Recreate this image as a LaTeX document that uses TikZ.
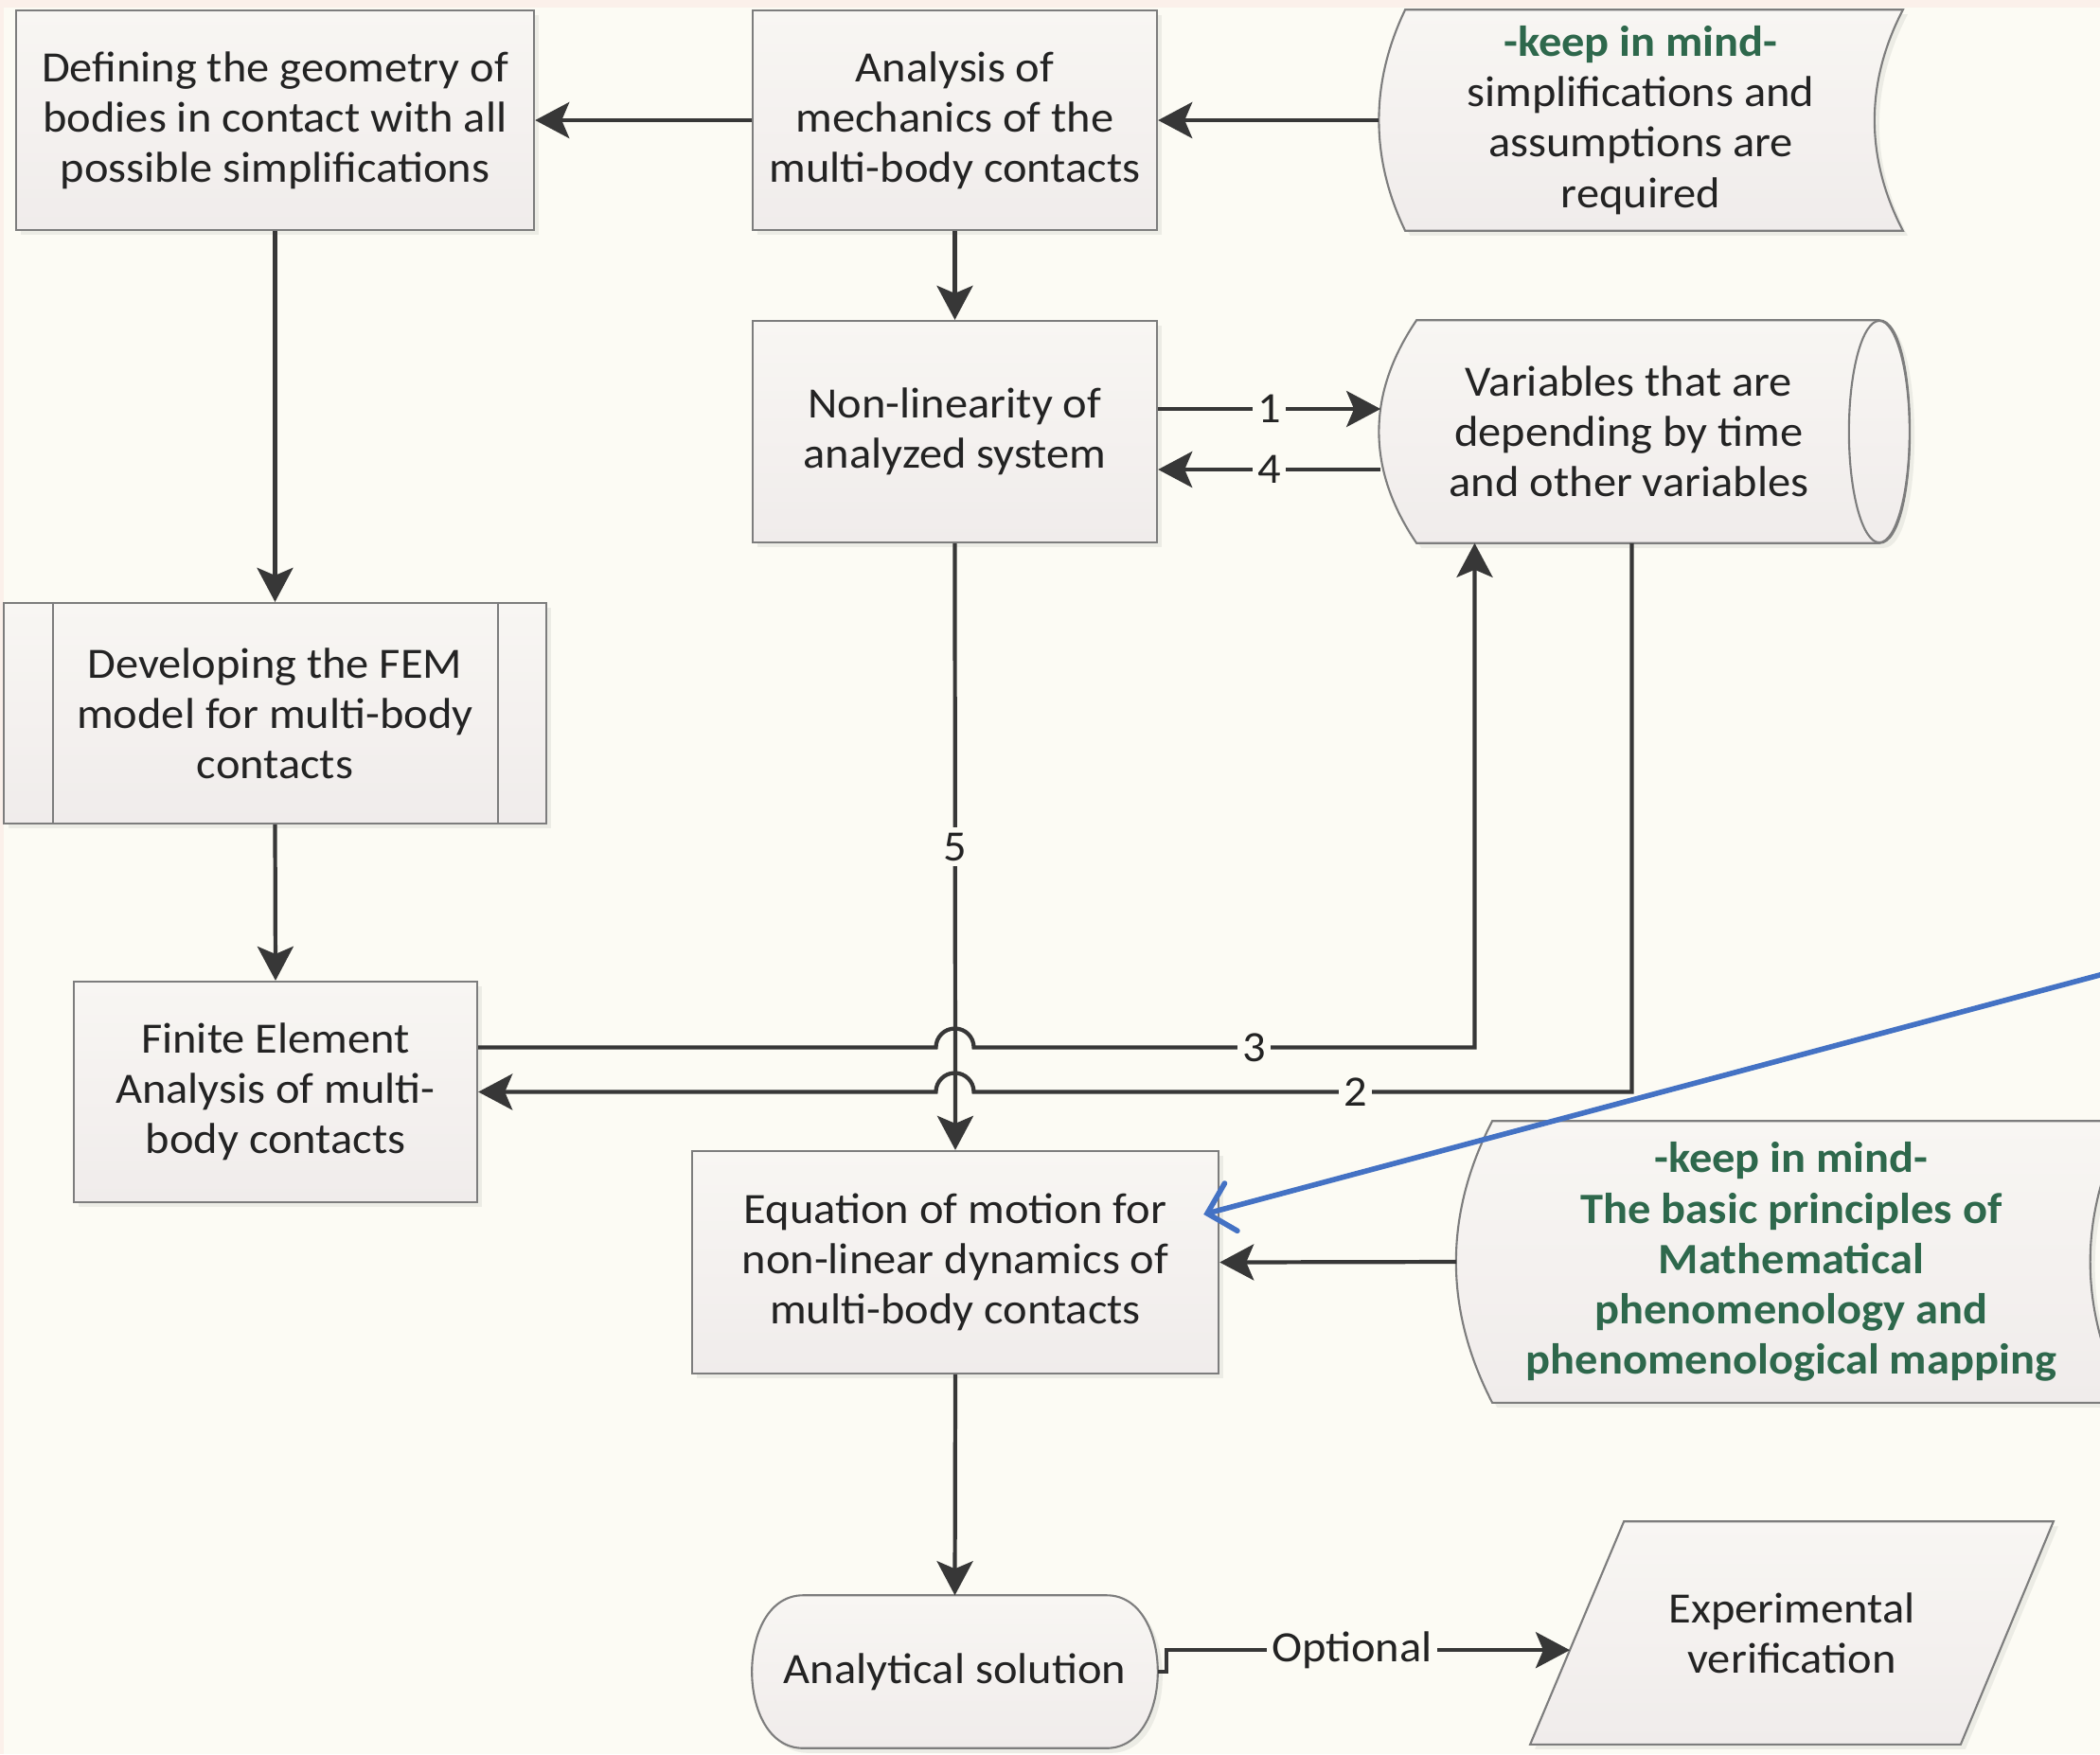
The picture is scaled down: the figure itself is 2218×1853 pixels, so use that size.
\documentclass[tikz,border=0pt]{standalone}
\usepackage{fontspec}
\setmainfont{Carlito}[FakeStretch=1.06]
\usetikzlibrary{calc}
\usetikzlibrary{arrows.meta}
\usetikzlibrary{shadows}

\definecolor{paper}{RGB}{252,251,244}
\definecolor{rim}{RGB}{251,240,234}
\definecolor{boxtop}{RGB}{248,246,243}
\definecolor{boxbot}{RGB}{240,236,235}
\definecolor{boxedge}{RGB}{125,125,125}
\definecolor{ink}{RGB}{35,35,35}
\definecolor{wire}{RGB}{55,55,55}
\definecolor{mindgreen}{RGB}{46,104,76}
\definecolor{pointblue}{RGB}{68,114,196}

\pgfdeclarelayer{paperlayer}
\pgfdeclarelayer{shapelayer}
\pgfsetlayers{paperlayer,shapelayer,main}

\tikzset{
  txt/.style={font=\fontsize{13}{15.1}\selectfont, text=ink, align=center, inner sep=0pt},
  boxshadow/.style={drop shadow={opacity=0.12, shadow xshift=0.05cm, shadow yshift=-0.05cm}},
  procbox/.style={txt, rectangle, draw=boxedge, line width=0.6pt, top color=boxtop, bottom color=boxbot, boxshadow},
  shapebox/.style={txt, rectangle},
  shapefill/.style={draw=boxedge, line width=0.6pt, top color=boxtop, bottom color=boxbot, boxshadow},
  thinline/.style={draw=boxedge, line width=0.6pt},
  conn/.style={draw=wire, line width=1.2pt, -{Stealth[length=3.6mm,width=3.8mm,inset=0.8mm]}},
  lbl/.style={fill=paper, inner sep=1.5pt, font=\fontsize{13}{15}\selectfont, text=ink},
  bluepointer/.style={draw=pointblue, line width=1.6pt, line cap=round, -{Straight Barb[length=2.6mm,width=5.2mm,line cap=round]}}
}

\begin{document}
\begin{tikzpicture}[x=0.01cm, y=-0.01cm]
\useasboundingbox (0,0) rectangle (2218,1853);
\begin{pgfonlayer}{paperlayer}
\fill[paper] (0,0) rectangle (2218,1853);
\fill[rim] (0,0) rectangle (2218,8);
\fill[rim] (0,0) rectangle (4,1853);
\end{pgfonlayer}

% boxes
\node[procbox, minimum width=5.47cm, minimum height=2.32cm] (geom) at (290.5,127)
  {Defining the geometry of\\bodies in contact with all\\possible simplifications};
\node[procbox, minimum width=4.27cm, minimum height=2.32cm] (mech) at (1008.5,127)
  {Analysis of\\mechanics of the\\multi-body contacts};
\node[shapebox, minimum width=5.52cm, minimum height=2.32cm] (keep) at (1733,127)
  {{\color{mindgreen}\bfseries -keep in mind-}\\simplifications and\\assumptions are\\required};
\node[procbox, minimum width=4.27cm, minimum height=2.34cm] (nonlin) at (1008.5,456)
  {Non-linearity of\\analyzed system};
\node[shapebox, minimum width=5.27cm, minimum height=2.34cm] (vars) at (1720.5,456)
  {Variables that are\\depending by time\\and other variables};
\node[procbox, minimum width=5.73cm, minimum height=2.33cm] (fem) at (290.5,753.5)
  {Developing the FEM\\model for multi-body\\contacts};
\node[procbox, minimum width=4.26cm, minimum height=2.33cm] (fea) at (291,1153.5)
  {Finite Element\\Analysis of multi-\\body contacts};
\node[procbox, minimum width=5.56cm, minimum height=2.35cm] (motion) at (1009,1333.5)
  {Equation of motion for\\non-linear dynamics of\\multi-body contacts};
\node[shapebox, text=mindgreen, font=\fontsize{13}{15.1}\selectfont\bfseries,
  minimum width=7.06cm, minimum height=2.96cm] (principles) at (1892,1333)
  {-keep in mind-\\The basic principles of\\Mathematical\\phenomenology and\\phenomenological mapping};
\node[shapebox, minimum width=4.27cm, minimum height=1.60cm] (analytic) at (1008.5,1766)
  {Analytical solution};
\node[shapebox, minimum width=5.51cm, minimum height=2.34cm] (verif) at (1892.5,1725)
  {Experimental\\verification};

% outlines of the non-rectangular shapes
\begin{pgfonlayer}{shapelayer}
\path[shapefill] ($(keep.north west)+(28,0)$) -- (keep.north east)
  .. controls ($(keep.north east)+(-40,77)$) and ($(keep.south east)+(-40,-77)$) .. (keep.south east)
  -- ($(keep.south west)+(28,0)$)
  .. controls ($(keep.south west)+(-9,-77)$) and ($(keep.north west)+(-9,77)$) .. cycle;
\path[shapefill] ($(vars.north west)+(40,0)$) -- (vars.north east)
  .. controls ($(vars.north east)+(43,0)$) and ($(vars.south east)+(43,0)$) .. (vars.south east)
  -- ($(vars.south west)+(40,0)$)
  .. controls ($(vars.south west)+(-13,-78)$) and ($(vars.north west)+(-13,78)$) .. cycle;
\draw[thinline] (vars.east) ellipse[x radius=0.32cm, y radius=1.17cm];
\path[shapefill] ($(principles.north west)+(38,0)$) -- (principles.north east)
  .. controls ($(principles.north east)+(-51,99)$) and ($(principles.south east)+(-51,-99)$) .. (principles.south east)
  -- ($(principles.south west)+(38,0)$)
  .. controls ($(principles.south west)+(-13,-99)$) and ($(principles.north west)+(-13,99)$) .. cycle;
\path[shapefill] ($(analytic.north west)+(54,0)$) -- ($(analytic.north east)+(-54,0)$)
  .. controls ($(analytic.north east)+(18,0)$) and ($(analytic.south east)+(18,0)$) .. ($(analytic.south east)+(-54,0)$)
  -- ($(analytic.south west)+(54,0)$)
  .. controls ($(analytic.south west)+(-18,0)$) and ($(analytic.north west)+(-18,0)$) .. cycle;
\path[shapefill] ($(verif.north west)+(99,0)$) -- (verif.north east)
  -- ($(verif.south east)+(-98,0)$) -- (verif.south west) -- cycle;
\end{pgfonlayer}
\draw[thinline] ($(fem.north west)+(53,0)$) -- ($(fem.south west)+(53,0)$);
\draw[thinline] ($(fem.north east)+(-52,0)$) -- ($(fem.south east)+(-52,0)$);

% connectors
\coordinate (verif-in) at ($(verif.south west)!0.423!($(verif.north west)+(99,0)$)$);
\coordinate (far) at (2300,1008);
\coordinate (motion-hit) at ($(motion.north east)+(-17,68)$);

\draw[conn] (mech.west) -- (geom.east);
\draw[conn] (keep.west) -- (mech.east);
\draw[conn] (mech.south) -- (nonlin.north);
\draw[conn] (geom.south) -- (fem.north);
\draw[conn] (fem.south) -- (fea.north);
\draw[conn] ($(nonlin.east)+(0,-24)$) -- node[lbl]{1} ($(vars.west)+(2,-24)$);
\draw[conn] ($(vars.west)+(2,40)$) -- node[lbl]{4} ($(nonlin.east)+(0,40)$);
\draw[conn] (nonlin.south) -- node[lbl]{5} (motion.north);
\draw[conn] ($(fea.east)+(0,-47)$) -- ($(nonlin.south |- fea.east)+(-20,-47)$)
  arc[start angle=180, end angle=0, radius=0.2cm]
  -| node[lbl, pos=0.28]{3} ($(vars.south)+(-163,0)$);
\draw[conn] ($(vars.south)+(3,0)$) |- node[lbl, pos=0.71]{2} ($(nonlin.south |- fea.east)+(20,0)$)
  arc[start angle=0, end angle=180, radius=0.2cm] -- (fea.east);
\draw[conn] (principles.west) -- (motion.east);
\draw[conn] (motion.south) -- (analytic.north);
\draw[conn] (analytic.east) -- ++(9,0) |- node[lbl, pos=0.73]{Optional} (verif-in);
\draw[bluepointer] (far) -- (motion-hit);
\end{tikzpicture}
\end{document}
